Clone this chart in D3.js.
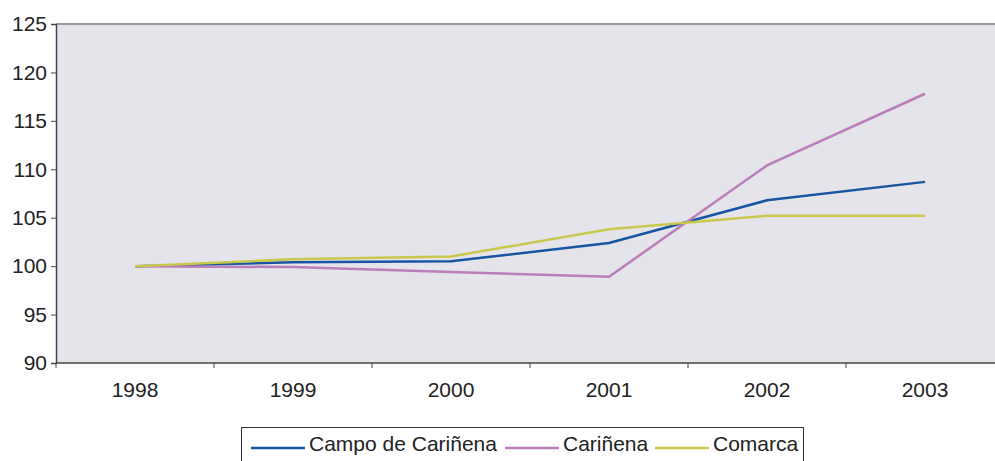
<!DOCTYPE html>
<html>
<head>
<meta charset="utf-8">
<script src="https://cdn.jsdelivr.net/npm/d3@7"></script>
<style>
  body { margin: 0; background: #fff; }
  svg text { font-family: "Liberation Sans", Arial, sans-serif; fill: #222; }
</style>
</head>
<body>
<svg id="svg" width="995" height="461"></svg>
<script>
// data
const years = ["1998", "1999", "2000", "2001", "2002", "2003"];
const campo = [100, 100.4, 100.5, 102.4, 106.8, 108.7];
const carinena = [100, 99.9, 99.4, 98.9, 110.4, 117.8];
const comarca = [100, 100.7, 101.0, 103.8, 105.2, 105.2];
const yTicks = [90, 95, 100, 105, 110, 115, 120, 125];

const series = [
    { name: "Campo de Cariñena", values: campo, colour: "#1456a3" },
    { name: "Cariñena", values: carinena, colour: "#bb7dbb" },
    { name: "Comarca", values: comarca, colour: "#c9c84c" }
];

let svg = d3.select("#svg");

const plotLeft = 56, plotTop = 24, plotBottom = 363;
const bandW = 158;

let x = d3.scaleBand()
    .domain(years)
    .range([plotLeft, plotLeft + bandW * years.length]);

let y = d3.scaleLinear()
    .domain([90, 125])
    .range([plotBottom, plotTop]);

// plot background
svg.append("rect")
    .attr("x", plotLeft)
    .attr("y", plotTop)
    .attr("width", x.range()[1] - plotLeft)
    .attr("height", plotBottom - plotTop)
    .attr("fill", "#e5e4ea");

// top border
svg.append("line")
    .attr("x1", plotLeft).attr("x2", 995)
    .attr("y1", plotTop).attr("y2", plotTop)
    .attr("stroke", "#999").attr("stroke-width", 2);

// y axis
let yAxis = svg.append("g")
    .attr("transform", "translate(" + plotLeft + ",0)")
    .call(d3.axisLeft(y).tickValues(yTicks).tickSize(5).tickPadding(4));
yAxis.select(".domain").attr("stroke", "#444").attr("stroke-width", 1.5);
yAxis.selectAll(".tick line").attr("stroke", "#444");
yAxis.selectAll("text").style("font-size", "21px").attr("fill", "#222");

// x axis, ticks between categories
let xAxis = svg.append("g")
    .attr("transform", "translate(0," + plotBottom + ")");
xAxis.append("line")
    .attr("x1", plotLeft).attr("x2", 995)
    .attr("stroke", "#444").attr("stroke-width", 1.5);
xAxis.selectAll(".sep")
    .data(years)
    .enter().append("line")
    .attr("class", "sep")
    .attr("x1", d => x(d)).attr("x2", d => x(d))
    .attr("y1", 0).attr("y2", 5)
    .attr("stroke", "#444");
xAxis.selectAll(".lbl")
    .data(years)
    .enter().append("text")
    .attr("class", "lbl")
    .attr("x", d => x(d) + x.bandwidth() / 2)
    .attr("y", 34)
    .attr("text-anchor", "middle")
    .style("font-size", "21px")
    .text(d => d);

// lines
let line = d3.line()
    .x((d, i) => x(years[i]) + x.bandwidth() / 2)
    .y(d => y(d));

svg.selectAll(".series")
    .data(series)
    .enter().append("path")
    .attr("class", "series")
    .attr("d", d => line(d.values))
    .attr("fill", "none")
    .attr("stroke", d => d.colour)
    .attr("stroke-width", 2.5);

// legend
let legend = svg.append("g");
legend.append("rect")
    .attr("x", 241.5).attr("y", 427.5)
    .attr("width", 562).attr("height", 40)
    .attr("fill", "#fff").attr("stroke", "#333");

const legendX = [251, 505, 655];
series.forEach((s, i) => {
    legend.append("line")
        .attr("x1", legendX[i]).attr("x2", legendX[i] + 54)
        .attr("y1", 448).attr("y2", 448)
        .attr("stroke", s.colour).attr("stroke-width", 2.5);
    legend.append("text")
        .attr("x", legendX[i] + 58)
        .attr("y", 451)
        .style("font-size", "21px")
        .text(s.name);
});
</script>
</body>
</html>
